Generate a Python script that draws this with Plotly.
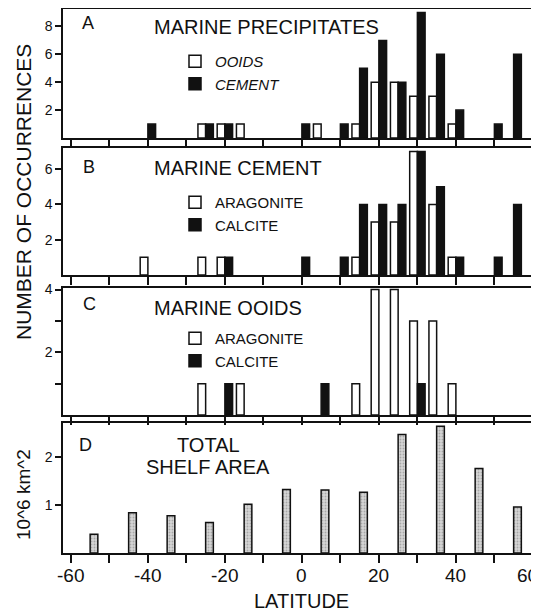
import plotly.graph_objects as go

# ---------------- data ----------------
lat_bins = [-60, -55, -50, -45, -40, -35, -30, -25, -20, -15, -10, -5, 0,
            5, 10, 15, 20, 25, 30, 35, 40, 45, 50, 55, 60]

# Panel A: marine precipitates
a_ooids = [0, 0, 0, 0, 0, 0, 0, 1, 1, 1, 0, 0, 0,
           1, 0, 1, 4, 4, 3, 3, 1, 0, 0, 0, 0]
a_cement = [0, 0, 0, 0, 1, 0, 0, 1, 1, 0, 0, 0, 1,
            0, 1, 5, 7, 4, 9, 6, 2, 0, 1, 6, 1]

# Panel B: marine cement
b_aragonite = [0, 0, 0, 0, 1, 0, 0, 1, 1, 0, 0, 0, 0,
               0, 0, 1, 3, 3, 7, 4, 1, 0, 0, 0, 0]
b_calcite = [0, 0, 0, 0, 0, 0, 0, 0, 1, 0, 0, 0, 1,
             0, 1, 4, 4, 4, 7, 5, 1, 0, 1, 4, 1]

# Panel C: marine ooids
c_aragonite = [0, 0, 0, 0, 0, 0, 0, 1, 0, 1, 0, 0, 0,
               0, 0, 1, 4, 4, 3, 3, 1, 0, 0, 0, 0]
c_calcite = [0, 0, 0, 0, 0, 0, 0, 0, 1, 0, 0, 0, 0,
             1, 0, 0, 0, 0, 1, 0, 0, 0, 0, 0, 0]

# Panel D: total shelf area (10^6 km^2)
shelf_bins = [-55, -45, -35, -25, -15, -5, 5, 15, 25, 35, 45, 55]
shelf_area = [0.39, 0.84, 0.78, 0.64, 1.02, 1.33, 1.32, 1.27, 2.48, 2.65, 1.77, 0.96]

x_ticks = [-60, -40, -20, 0, 20, 40, 60]
x_tick_labels = ["-60", "-40", "-20", "0", "20", "40", "60"]

# ---------------- layout helpers ----------------
# the page body adds an 8px offset; the figure is sized so that it ends at the window edge
OFF = 8
W, H = 539 - OFF, 613 - OFF
ML, MR, MT, MB = 63 - OFF, 0, 1, 60
PW = W - ML - MR
PH = H - MT - MB


def px_x(sx):
    return (sx - OFF - ML) / PW


def px_y(sy):
    return (H - MB - (sy - OFF)) / PH


def nz(v):
    return [None if q == 0 else q for q in v]


FONT = "Liberation Sans, Arial, Helvetica, sans-serif"
BLACK = "#111111"

fig = go.Figure()

open_style = dict(color="white", line=dict(color=BLACK, width=1.5))
fill_style = dict(color=BLACK, line=dict(color=BLACK, width=1.5))

panels = [
    ("x", "y", "legend", ("OOIDS", a_ooids), ("CEMENT", a_cement)),
    ("x2", "y2", "legend2", ("ARAGONITE", b_aragonite), ("CALCITE", b_calcite)),
    ("x3", "y3", "legend3", ("ARAGONITE", c_aragonite), ("CALCITE", c_calcite)),
]
for xa, ya, lg, (n1, v1), (n2, v2) in panels:
    fig.add_trace(go.Bar(x=lat_bins, y=nz(v1), name=n1, xaxis=xa, yaxis=ya,
                         width=2, offset=-2, marker=open_style, legend=lg))
    fig.add_trace(go.Bar(x=lat_bins, y=nz(v2), name=n2, xaxis=xa, yaxis=ya,
                         width=2, offset=0, marker=fill_style, legend=lg))

fig.add_trace(go.Bar(x=shelf_bins, y=shelf_area, xaxis="x4", yaxis="y4",
                     width=2, offset=0, showlegend=False,
                     marker=dict(color="#c8c8c8",
                                 line=dict(color=BLACK, width=1.5),
                                 pattern=dict(shape=".", fgcolor="#777777",
                                              bgcolor="#d6d6d6", size=3,
                                              solidity=0.3))))

# panel pixel extents in window pixels (top, bottom)
ext = {"": (9, 138), "2": (148, 275), "3": (288, 415), "4": (423, 553)}
yranges = {"": [0, 9.25], "2": [0, 7.2], "3": [0, 4.05], "4": [0, 2.72]}
ytv = {"": [2, 4, 6, 8], "2": [2, 4, 6], "3": [1, 2, 3, 4], "4": [1, 2]}
ytt = {"": ["2", "4", "6", "8"], "2": ["2", "4", "6"], "3": ["", "2", "", "4"],
       "4": ["1", "2"]}

layout = dict(
    width=W, height=H,
    margin=dict(l=ML, r=MR, t=MT, b=MB, autoexpand=False),
    paper_bgcolor="white", plot_bgcolor="white",
    font=dict(family=FONT, color=BLACK),
    barmode="overlay",
    showlegend=True,
)

for k in ["", "2", "3", "4"]:
    top, bot = ext[k]
    layout["xaxis" + k] = dict(
        domain=[0, 1], range=[-62.05, -62.05 + PW / 3.85],
        anchor="y" + k, tickvals=list(range(-60, 61, 10)),
        ticks="outside", ticklen=8, tickwidth=1.5, tickcolor=BLACK,
        showticklabels=False, showgrid=False, zeroline=False,
        showline=True, mirror=True, linecolor=BLACK, linewidth=1.5,
        fixedrange=True,
    )
    layout["yaxis" + k] = dict(
        domain=[px_y(bot), px_y(top)], range=yranges[k], anchor="x" + k,
        tickvals=ytv[k], ticktext=ytt[k],
        ticks="outside", ticklen=6, tickwidth=1.5, tickcolor=BLACK,
        showgrid=False, zeroline=False,
        showline=True, mirror=True, linecolor=BLACK, linewidth=1.5,
        tickfont=dict(size=14, family=FONT, color=BLACK),
        fixedrange=True,
    )

leg_common = dict(xref="paper", yref="paper", xanchor="left", yanchor="top",
                  bgcolor="rgba(0,0,0,0)", borderwidth=0, tracegroupgap=0,
                  itemclick=False, itemdoubleclick=False)
layout["legend"] = dict(x=px_x(175), y=px_y(45),
                        font=dict(size=15, family=FONT, color=BLACK, style="italic"),
                        **leg_common)
layout["legend2"] = dict(x=px_x(175), y=px_y(186),
                         font=dict(size=15, family=FONT, color=BLACK), **leg_common)
layout["legend3"] = dict(x=px_x(175), y=px_y(322),
                         font=dict(size=15, family=FONT, color=BLACK), **leg_common)

fig.update_layout(**layout)

# ---------------- text ----------------
def txt(s, x, y, size, anchor="left", angle=0):
    fig.add_annotation(text=s, x=px_x(x), y=px_y(y), xref="paper", yref="paper",
                       xanchor=anchor, yanchor="middle", showarrow=False,
                       textangle=angle, font=dict(size=size, family=FONT, color=BLACK))


# latitude tick labels, placed through the x axis scale of panel D
for v, lab in zip(x_ticks, x_tick_labels):
    fig.add_annotation(text=lab, x=v, xref="x4", y=px_y(575), yref="paper",
                       xanchor="right" if v == x_ticks[-1] else "center",
                       xshift=7 if v == x_ticks[-1] else 0,
                       yanchor="middle", showarrow=False,
                       font=dict(size=19, family=FONT, color=BLACK))

txt("A", 80, 23, 18)
txt("MARINE PRECIPITATES", 152, 27, 20)
txt("B", 81, 167, 18)
txt("MARINE CEMENT", 152, 168, 20)
txt("C", 81, 304, 18)
txt("MARINE OOIDS", 152, 308, 20)
txt("D", 77, 445, 18)
txt("TOTAL", 208, 445, 20, anchor="center")
txt("SHELF AREA", 208, 467, 20, anchor="center")
txt("LATITUDE", 301, 601, 20, anchor="center")
txt("NUMBER OF OCCURRENCES", 23, 192, 21, anchor="center", angle=-90)
txt("10^6 km^2", 23, 495, 19, anchor="center", angle=-90)

fig.write_html("out.html")
